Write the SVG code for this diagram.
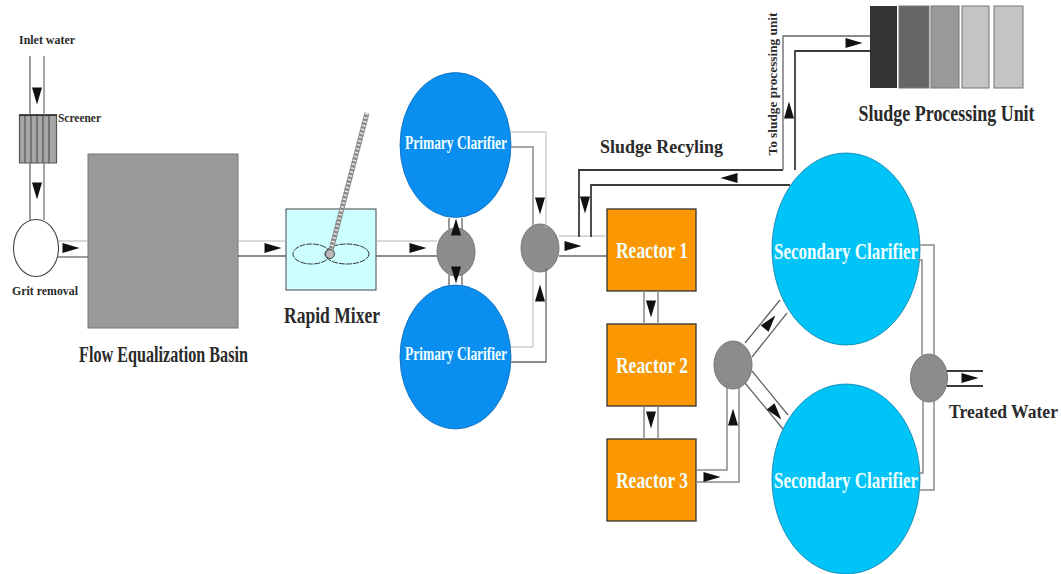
<svg xmlns="http://www.w3.org/2000/svg" width="1061" height="574" viewBox="0 0 1061 574">
<style>
text{font-family:"Liberation Serif","Times New Roman",serif;font-weight:bold;text-anchor:middle}
.dark{fill:#2a2a2a}
.lite{fill:#f2ffff}
.pipe{fill:none;stroke:#666;stroke-width:1.300}
.mid{fill:none;stroke:#8a8a8a;stroke-width:1.500}
.pale{fill:none;stroke:#b4b4b4;stroke-width:1}
.heavy{fill:none;stroke:#3a3a3a;stroke-width:1.800}
.node{fill:#8c8c8c;stroke:#777;stroke-width:1}
.pc{fill:#0a8ff0;stroke:#0b68b8;stroke-width:.8}
.sc{fill:#00c3f7;stroke:#0a7fa8;stroke-width:.8}
.re{fill:#fb9700;stroke:#333;stroke-width:1.300}
.ah{fill:#111}
.hatch{stroke:#555;stroke-width:1.200}
</style>
<defs>
<polygon id="ah" points="8.500,0 -8.500,-5 -8.500,5"/>
</defs>

<g id="inlet-water"><text class="dark" x="47" y="44" font-size="12.500" textLength="56" lengthAdjust="spacingAndGlyphs">Inlet water</text></g>

<g id="screener">
<rect x="19" y="115" width="38" height="48" fill="#a6a6a6"/>
<path class="hatch" d="M19.500 115V163M25 115V163M31 115V163M37 115V163M43 115V163M49 115V163M56.500 115V163M19 163H57"/>
<path d="M19 115H57" stroke="#111" stroke-width="1.500"/>
<text class="dark" x="79.500" y="122" font-size="12.500" textLength="43" lengthAdjust="spacingAndGlyphs">Screener</text>
</g>

<g id="grit-removal">
<ellipse cx="36" cy="248" rx="22.500" ry="28.500" fill="#fff" stroke="#444" stroke-width="1.100"/>
<text class="dark" x="45" y="295" font-size="13" textLength="66" lengthAdjust="spacingAndGlyphs">Grit removal</text>
</g>

<g id="flow-equalization-basin">
<rect x="88" y="154" width="150" height="174" fill="#999" stroke="#777"/>
<text class="dark" x="163.500" y="362" font-size="23" textLength="169" lengthAdjust="spacingAndGlyphs">Flow Equalization Basin</text>
</g>

<g id="rapid-mixer">
<rect x="286" y="209" width="90" height="81" fill="#ccffff" stroke="#555" stroke-width="1.100"/>
<ellipse cx="311.500" cy="254" rx="18.500" ry="10" fill="none" stroke="#333" stroke-dasharray="6 1"/>
<ellipse cx="347" cy="254" rx="22" ry="10" fill="none" stroke="#333" stroke-dasharray="6 1"/>
<path d="M330 254L367 113" stroke="#8a8a8a" stroke-width="5"/>
<path d="M330 254L367 113" stroke="#e8e8e8" stroke-width="3.500" stroke-dasharray="1.500 2.500"/>
<circle cx="330" cy="254" r="4.500" fill="#bbb" stroke="#444"/>
<text class="dark" x="332" y="323" font-size="23" textLength="96" lengthAdjust="spacingAndGlyphs">Rapid Mixer</text>
</g>

<g id="junction-1"><ellipse class="node" cx="456" cy="252" rx="19" ry="24"/></g>

<g id="primary-clarifier-1">
<ellipse class="pc" cx="455.500" cy="145" rx="55.500" ry="72.500"/>
<text class="lite" x="456" y="149" font-size="18" textLength="102" lengthAdjust="spacingAndGlyphs">Primary Clarifier</text>
</g>
<g id="primary-clarifier-2">
<ellipse class="pc" cx="455.500" cy="357" rx="55.500" ry="72"/>
<text class="lite" x="456" y="360" font-size="18" textLength="102" lengthAdjust="spacingAndGlyphs">Primary Clarifier</text>
</g>

<g id="junction-2"><ellipse class="node" cx="540" cy="248" rx="19" ry="24"/></g>

<g id="reactor-1">
<rect class="re" x="607" y="209" width="89" height="82"/>
<text class="lite" x="652" y="258" font-size="23" textLength="72" lengthAdjust="spacingAndGlyphs">Reactor 1</text>
</g>
<g id="reactor-2">
<rect class="re" x="607" y="324" width="89" height="82"/>
<text class="lite" x="652" y="373" font-size="23" textLength="72" lengthAdjust="spacingAndGlyphs">Reactor 2</text>
</g>
<g id="reactor-3">
<rect class="re" x="607" y="439" width="89" height="82"/>
<text class="lite" x="652" y="488" font-size="23" textLength="72" lengthAdjust="spacingAndGlyphs">Reactor 3</text>
</g>

<g id="junction-3"><ellipse class="node" cx="733" cy="365" rx="19" ry="24"/></g>
<g id="junction-4"><ellipse class="node" cx="929" cy="378" rx="18.500" ry="24"/></g>

<g id="secondary-clarifier-1">
<ellipse class="sc" cx="846" cy="249" rx="74" ry="96"/>
<text class="lite" x="846" y="259" font-size="23" textLength="144" lengthAdjust="spacingAndGlyphs">Secondary Clarifier</text>
</g>
<g id="secondary-clarifier-2">
<ellipse class="sc" cx="846" cy="479" rx="74" ry="95"/>
<text class="lite" x="846" y="488" font-size="23" textLength="144" lengthAdjust="spacingAndGlyphs">Secondary Clarifier</text>
</g>

<g id="sludge-processing-unit">
<rect x="870" y="6" width="27" height="82" fill="#333"/>
<rect x="899" y="6" width="30" height="82" fill="#666" stroke="#777"/>
<rect x="931" y="6" width="28" height="82" fill="#999" stroke="#777"/>
<rect x="962" y="6" width="27" height="82" fill="#c4c4c4" stroke="#777"/>
<rect x="994" y="6" width="29" height="82" fill="#c4c4c4" stroke="#777"/>
<text class="dark" transform="translate(946.500 121) scale(.748 1)" font-size="24">Sludge Processing Unit</text>
</g>

<g id="labels">
<text class="dark" x="661.500" y="153" font-size="18" textLength="123" lengthAdjust="spacingAndGlyphs">Sludge Recyling</text>
<text class="dark" transform="translate(777 84) rotate(-90)" font-size="12.500" textLength="143" lengthAdjust="spacingAndGlyphs">To sludge processing unit</text>
<text class="dark" x="1003.500" y="418" font-size="18" textLength="109" lengthAdjust="spacingAndGlyphs">Treated Water</text>
</g>

<g id="connectors">
<path class="pipe" d="M30 56V115M30 163V220"/>
<path class="mid" d="M44 56V115M44 163V220"/>
<path class="pale" d="M58 241H88"/><path class="pipe" d="M58 257H88"/>
<path class="pale" d="M238 241H286"/><path class="pipe" d="M238 256H286"/>
<path class="pale" d="M376 241H437"/><path class="pipe" d="M376 256H437"/>
<path class="pipe" d="M449 218V229M462 218V229M449 275V285M462 275V285"/>
<path class="pale" d="M511 132H546V228"/><path class="mid" d="M511 147H533V226"/>
<path class="pale" d="M511 347H533V270"/><path class="pipe" d="M511 362H546V268"/>
<path class="pale" d="M559 236H607"/><path class="pipe" d="M559 256H607"/>
<path class="mid" d="M644 291V324M658 291V324M644 406V439M658 406V439"/>
<path class="heavy" d="M783 170H579V237"/><path class="heavy" d="M790 185H591V237"/>
<path class="pipe" d="M783 170V36H870"/>
<path class="heavy" d="M795 170V51H870"/>
<path class="mid" d="M696 470H727V388"/><path class="mid" d="M696 482H739V388"/>
<path class="pipe" d="M745 343L780 300M752 357L787 313M752 371L788 415M745 383L783 429"/>
<path class="mid" d="M920 245H934V356M920 490H934V400M918 473H923V400M918 260H922V355"/>
<path class="heavy" d="M947 371H983M947 386H983"/>
<use href="#ah" class="ah" transform="translate(37 96) rotate(90)"/>
<use href="#ah" class="ah" transform="translate(37 191) rotate(90)"/>
<use href="#ah" class="ah" transform="translate(71 248)"/>
<use href="#ah" class="ah" transform="translate(273 248)"/>
<use href="#ah" class="ah" transform="translate(418 248)"/>
<use href="#ah" class="ah" transform="translate(456 227) rotate(-90)"/>
<use href="#ah" class="ah" transform="translate(456 275) rotate(90)"/>
<use href="#ah" class="ah" transform="translate(540 206) rotate(90)"/>
<use href="#ah" class="ah" transform="translate(540 293) rotate(-90)"/>
<use href="#ah" class="ah" transform="translate(573 246)"/>
<use href="#ah" class="ah" transform="translate(729 178) rotate(180)"/>
<use href="#ah" class="ah" transform="translate(585 205) rotate(90)"/>
<use href="#ah" class="ah" transform="translate(789 110) rotate(-90)"/>
<use href="#ah" class="ah" transform="translate(854 43)"/>
<use href="#ah" class="ah" transform="translate(651 309) rotate(90)"/>
<use href="#ah" class="ah" transform="translate(651 420) rotate(90)"/>
<use href="#ah" class="ah" transform="translate(712 477)"/>
<use href="#ah" class="ah" transform="translate(733 417) rotate(-90)"/>
<use href="#ah" class="ah" transform="translate(770 322) rotate(-51)"/>
<use href="#ah" class="ah" transform="translate(776 413) rotate(51)"/>
<use href="#ah" class="ah" transform="translate(970 378)"/>
</g>
</svg>
